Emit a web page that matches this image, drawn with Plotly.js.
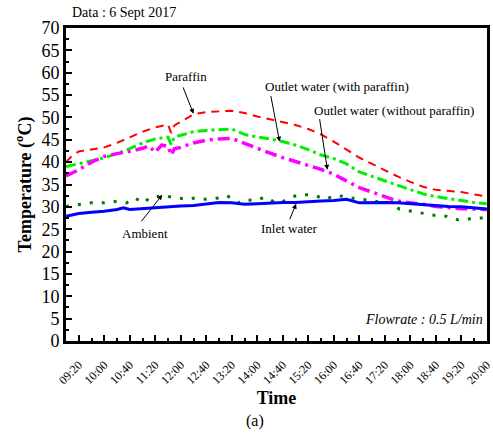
<!DOCTYPE html>
<html>
<head>
<meta charset="utf-8">
<script src="https://cdn.plot.ly/plotly-3.0.1.min.js"></script>
<style>html,body{margin:0;padding:0;background:#fff;}#chart{width:493px;height:435px;}</style>
</head>
<body>
<div id="chart"></div>
<script>
const day = '2017-09-06 ';
// x tick labels
const tickLabels = ['09:20','10:00','10:40','11:20','12:00','12:40','13:20','14:00','14:40','15:20','16:00','16:40','17:20','18:00','18:40','19:20','20:00'];
// Paraffin
const parTimes = ['09:00','09:10','09:20','09:40','10:00','10:20','10:40','11:00','11:20','11:40','11:45','11:50','12:00','12:20','12:40','13:00','13:20','13:40','14:00','14:20','14:40','15:00','15:20','15:40','16:00','16:20','16:40','17:00','17:20','17:40','18:00','18:20','18:40','19:00','19:20','19:40','20:00'];
const parVals  = [40.0,41.5,42.4,42.9,43.3,44.3,45.5,46.8,47.8,48.4,46.5,48.2,49.0,50.7,51.2,51.4,51.5,51.0,50.2,49.6,49.0,48.3,47.4,46.2,44.6,42.8,41.0,39.6,38.2,36.8,35.6,34.5,33.8,33.5,33.3,32.8,32.3];
// Outlet water (with paraffin)
const withTimes = ['09:00','09:20','09:40','10:00','10:20','10:40','11:00','11:20','11:40','11:45','11:50','12:00','12:20','12:40','13:00','13:20','13:40','14:00','14:20','14:40','15:00','15:20','15:40','16:00','16:20','16:40','17:00','17:20','17:40','18:00','18:20','18:40','19:00','19:20','19:40','20:00'];
const withVals  = [39.0,39.6,40.3,41.0,41.9,43.0,44.3,45.2,45.6,43.9,45.6,46.0,46.8,47.1,47.3,47.4,46.2,45.6,45.2,44.6,43.8,42.8,41.6,40.8,39.6,37.8,36.8,35.8,34.8,33.8,32.9,32.3,31.8,31.4,31.0,30.7];
// Outlet water (without paraffin)
const woTimes = ['09:00','09:20','09:40','10:00','10:20','10:40','11:00','11:10','11:20','11:30','11:40','11:45','11:50','12:00','12:20','12:40','13:00','13:20','13:40','14:00','14:20','14:40','15:00','15:20','15:40','16:00','16:20','16:40','17:00','17:20','17:40','18:00','18:20','18:40','19:00','19:20','19:40','20:00'];
const woVals  = [36.9,38.3,40.0,41.3,41.9,42.4,43.1,43.6,42.2,43.8,43.6,41.6,43.0,43.3,44.3,44.9,45.2,45.3,44.2,43.0,42.0,41.0,40.2,39.4,38.4,37.3,35.8,34.3,33.3,32.4,31.3,30.9,30.6,30.1,29.8,29.6,29.5,29.4];
// Ambient
const ambTimes = ['09:00','09:20','09:40','10:00','10:15','10:35','10:47','11:03','11:10','11:25','11:30','11:41','11:54','12:08','12:23','12:40','12:59','13:12','13:19','13:30','13:41','13:57','14:12','14:28','14:40','14:53','15:08','15:20','15:31','15:47','16:02','16:18','16:40','16:55','17:12','17:28','17:43','17:59','18:20','18:38','18:56','19:15','19:32','19:50','20:00'];
const ambVals  = [30.1,30.5,30.9,30.9,31.2,30.9,32.0,30.9,32.0,32.3,32.7,32.3,32.0,31.7,32.0,31.7,32.0,32.5,32.0,30.9,31.6,31.4,32.2,31.0,31.2,32.2,32.7,32.7,32.5,31.7,32.5,32.3,31.6,31.6,31.0,31.0,29.5,29.1,28.5,28.1,27.9,27.1,27.3,27.5,27.6];
// Inlet water
const inTimes = ['09:00','09:20','09:40','10:00','10:20','10:30','10:40','11:00','11:20','11:40','12:00','12:20','12:40','13:00','13:20','13:40','14:00','14:20','14:40','15:00','15:20','15:40','16:00','16:20','16:40','17:00','17:20','17:40','18:00','18:20','18:40','19:00','19:20','19:40','20:00'];
const inVals  = [27.9,28.5,28.8,29.0,29.4,29.8,29.4,29.6,29.8,30.1,30.2,30.3,30.6,31.0,30.9,30.6,30.7,30.9,31.0,31.0,31.2,31.3,31.4,31.7,30.9,31.0,31.0,30.9,30.7,30.5,30.2,30.1,30.0,29.8,29.5];

const rangeStart = '09:00';
const rangeEnd = '20:00:20';

const T = a => a.map(t => day + t);
const serif = 'Liberation Serif, Times New Roman, serif';

const traces = [
  {x: T(parTimes), y: parVals, mode: 'lines', line: {color: '#ff0000', width: 2, dash: '8px,6px'}},
  {x: T(withTimes), y: withVals, mode: 'lines', line: {color: '#00ee00', width: 3, dash: '10px,4px,3px,4px'}},
  {x: T(woTimes), y: woVals, mode: 'lines', line: {color: '#ff00ff', width: 3.5, dash: '12px,5px,3px,5px'}},
  {x: T(ambTimes), y: ambVals, mode: 'lines', line: {color: '#007a00', width: 3, dash: '3px,9px'}},
  {x: T(inTimes), y: inVals, mode: 'lines', line: {color: '#0000ff', width: 3}}
];

const arrowBase = {text: '', showarrow: true, arrowhead: 2, arrowsize: 1, arrowwidth: 1, arrowcolor: '#000', axref: 'pixel', ayref: 'pixel'};
const txt = (text, x, y, extra) => Object.assign({text: text, xref: 'paper', yref: 'paper', x: x, y: y, xanchor: 'center', yanchor: 'middle', showarrow: false, font: {family: serif, size: 13, color: '#000'}}, extra || {});

const layout = {
  width: 493, height: 435,
  margin: {l: 66, r: 6, t: 28, b: 94},
  paper_bgcolor: '#fff', plot_bgcolor: '#fff',
  showlegend: false,
  font: {family: serif, color: '#000'},
  xaxis: {
    type: 'date', range: [day + rangeStart, day + rangeEnd],
    tickmode: 'array', tickvals: T(tickLabels), ticktext: tickLabels, tickangle: -45,
    ticklabeloverflow: 'allow',
    ticks: 'inside', ticklen: 6, tickwidth: 2, tickcolor: '#000', ticklabelstandoff: 9,
    minor: {dtick: 1200000, tick0: day + '09:00', ticks: 'inside', ticklen: 3, tickwidth: 2, tickcolor: '#000'},
    showline: true, linewidth: 3, linecolor: '#000', mirror: true,
    showgrid: false, zeroline: false,
    tickfont: {family: serif, size: 12, color: '#000'},
    title: {text: '<b>Time</b>', font: {family: serif, size: 18, color: '#000'}, standoff: 6}
  },
  yaxis: {
    range: [0, 70], dtick: 5,
    ticks: 'inside', ticklen: 6, tickwidth: 2, tickcolor: '#000',
    minor: {dtick: 2.5, ticks: 'inside', ticklen: 3, tickwidth: 2, tickcolor: '#000'},
    showline: true, linewidth: 3, linecolor: '#000', mirror: true,
    showgrid: false, zeroline: false,
    tickfont: {family: serif, size: 18, color: '#000'},
    title: {text: '<b>Temperature (<sup>o</sup>C)</b>', font: {family: serif, size: 18, color: '#000'}, standoff: 6}
  },
  annotations: [
    Object.assign({}, arrowBase, {x: day + '12:20', y: 50.8, ax: -11, ay: -28}),
    Object.assign({}, arrowBase, {x: day + '14:35', y: 44.6, ax: -9, ay: -47}),
    Object.assign({}, arrowBase, {x: day + '15:50', y: 38.3, ax: -8, ay: -52}),
    Object.assign({}, arrowBase, {x: day + '11:31', y: 32.7, ax: -22, ay: 28}),
    Object.assign({}, arrowBase, {x: day + '15:01', y: 30.7, ax: -7, ay: 17}),
    txt('Paraffin', 0.284, 0.844),
    txt('Outlet water (with paraffin)', 0.643, 0.812),
    txt('Outlet water (without paraffin)', 0.78, 0.738),
    txt('Ambient', 0.188, 0.343),
    txt('Inlet water', 0.532, 0.359),
    txt('<i>Flowrate : 0.5 L/min</i>', 0.995, 0.069, {xanchor: 'right', font: {family: serif, size: 14, color: '#000'}}),
    txt('Data : 6 Sept 2017', 0.0094, 1.048, {xanchor: 'left', font: {family: serif, size: 14, color: '#000'}}),
    txt('(a)', 0.45, -0.257, {font: {family: serif, size: 16, color: '#000'}})
  ]
};

Plotly.newPlot('chart', traces, layout, {displayModeBar: false, staticPlot: true});
</script>
</body>
</html>
